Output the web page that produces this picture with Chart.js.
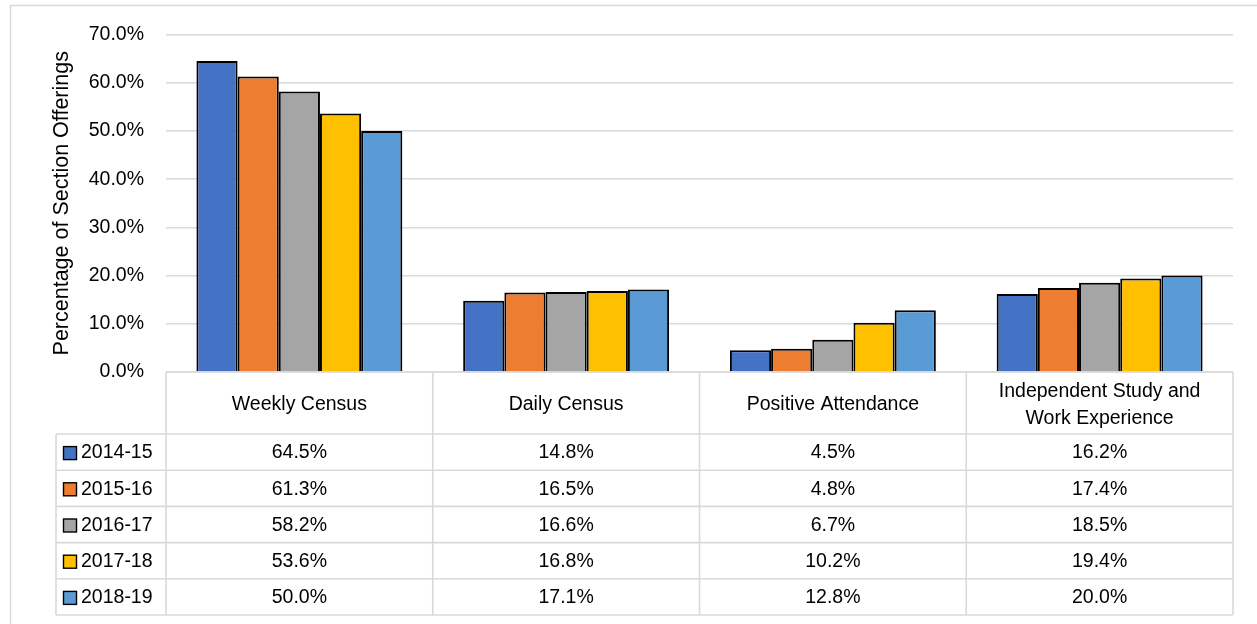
<!DOCTYPE html>
<html>
<head>
<meta charset="utf-8">
<title>Section Offerings by Attendance Method</title>
<script src="https://cdn.jsdelivr.net/npm/chart.js@4.4.0/dist/chart.umd.min.js"></script>
<style>
    html, body { margin: 0; padding: 0; background: #fff; overflow: hidden; }
    #chart { display: block; }
</style>
</head>
<body>
<canvas id="chart" width="1257" height="624"></canvas>
<script>
'use strict';

var categories = ['Weekly Census', 'Daily Census', 'Positive Attendance', ['Independent Study and', 'Work Experience']];
var seriesNames = ['2014-15', '2015-16', '2016-17', '2017-18', '2018-19'];
var seriesColors = ['#4472C4', '#ED7D31', '#A5A5A5', '#FFC000', '#5B9BD5'];
var values2014 = [64.5, 14.8, 4.5, 16.2];
var values2015 = [61.3, 16.5, 4.8, 17.4];
var values2016 = [58.2, 16.6, 6.7, 18.5];
var values2017 = [53.6, 16.8, 10.2, 19.4];
var values2018 = [50.0, 17.1, 12.8, 20.0];
var seriesValues = [values2014, values2015, values2016, values2017, values2018];
var yTicks = [0, 10, 20, 30, 40, 50, 60, 70];

var FONT = '"Liberation Sans", Arial, sans-serif';
var GRID = '#d9d9d9';
var TEXT = '#000';

// outer frame of the chart object
var framePlugin = {
    id: 'frame',
    beforeDraw: function (chart) {
        var ctx = chart.ctx;
        ctx.save();
        ctx.fillStyle = '#fff';
        ctx.fillRect(0, 0, chart.width, chart.height);
        ctx.strokeStyle = GRID;
        ctx.lineWidth = 1.5;
        ctx.strokeRect(10.5, 5.5, chart.width + 20, chart.height + 20);
        ctx.restore();
    }
};

// data table under the plot, columns follow the x scale
var tablePlugin = {
    id: 'dataTable',
    afterDraw: function (chart) {
        var ctx = chart.ctx;
        var x = chart.scales.x;
        var area = chart.chartArea;
        var colW = x.width / categories.length;
        var headTop = area.bottom;
        var headBottom = headTop + 62;
        var rowH = 36.2;
        var legendLeft = 56;
        var tableBottom = headBottom + rowH * seriesNames.length;
        var i, j, cx, y;

        ctx.save();
        ctx.strokeStyle = GRID;
        ctx.lineWidth = 1.6;
        ctx.beginPath();
        // header top
        ctx.moveTo(area.left, headTop);
        ctx.lineTo(area.right, headTop);
        // row lines
        for (j = 0; j <= seriesNames.length; j++) {
            y = headBottom + rowH * j;
            ctx.moveTo(legendLeft, y);
            ctx.lineTo(area.right, y);
        }
        // column lines
        for (i = 0; i <= categories.length; i++) {
            cx = area.left + colW * i;
            ctx.moveTo(cx, headTop);
            ctx.lineTo(cx, tableBottom);
        }
        ctx.moveTo(legendLeft, headBottom);
        ctx.lineTo(legendLeft, tableBottom);
        ctx.stroke();

        ctx.fillStyle = TEXT;
        ctx.font = '19.5px ' + FONT;
        ctx.textAlign = 'center';
        ctx.textBaseline = 'middle';

        // category headers
        for (i = 0; i < categories.length; i++) {
            cx = x.getPixelForValue(i);
            var lines = [].concat(categories[i]);
            var mid = (headTop + headBottom) / 2 + 2;
            for (var k = 0; k < lines.length; k++) {
                ctx.fillText(lines[k], cx, mid + (k - (lines.length - 1) / 2) * 27);
            }
        }

        // values
        for (j = 0; j < seriesNames.length; j++) {
            y = headBottom + rowH * j + rowH / 2 + 1;
            for (i = 0; i < categories.length; i++) {
                ctx.fillText(seriesValues[j][i].toFixed(1) + '%', x.getPixelForValue(i), y);
            }
        }

        // legend keys
        ctx.textAlign = 'left';
        for (j = 0; j < seriesNames.length; j++) {
            y = headBottom + rowH * j + rowH / 2 + 1;
            ctx.fillStyle = seriesColors[j];
            ctx.fillRect(63.5, y - 6.5, 13, 13);
            ctx.strokeStyle = '#000';
            ctx.lineWidth = 1.4;
            ctx.strokeRect(63.5, y - 6.5, 13, 13);
            ctx.fillStyle = TEXT;
            ctx.fillText(seriesNames[j], 81, y);
        }
        ctx.restore();
    }
};

var datasets = seriesNames.map(function (name, j) {
    return {
        label: name,
        data: seriesValues[j],
        backgroundColor: seriesColors[j],
        borderColor: '#000',
        borderWidth: 2,
        categoryPercentage: 0.772,
        barPercentage: 1
    };
});

var chart = new Chart(document.getElementById('chart'), {
    type: 'bar',
    data: {
        labels: categories,
        datasets: datasets
    },
    options: {
        responsive: false,
        animation: false,
        layout: {
            padding: { left: 0, right: 24, top: 34.5, bottom: 252 }
        },
        plugins: {
            legend: { display: false },
            tooltip: { enabled: false }
        },
        scales: {
            x: {
                display: false
            },
            y: {
                min: 0,
                max: 70,
                afterFit: function (scale) {
                    scale.width = 166;
                },
                afterBuildTicks: function (scale) {
                    scale.ticks = yTicks.map(function (v) { return { value: v }; });
                },
                ticks: {
                    padding: 22,
                    color: TEXT,
                    font: { family: FONT, size: 19.5 },
                    callback: function (v) { return v.toFixed(1) + '%'; }
                },
                grid: {
                    color: GRID,
                    lineWidth: 1.5,
                    drawTicks: false
                },
                border: { display: false },
                title: {
                    display: true,
                    text: 'Percentage of Section Offerings',
                    color: TEXT,
                    font: { family: FONT, size: 21.5 },
                    padding: { top: 49, bottom: 0 }
                }
            }
        }
    },
    plugins: [framePlugin, tablePlugin]
});
</script>
</body>
</html>
